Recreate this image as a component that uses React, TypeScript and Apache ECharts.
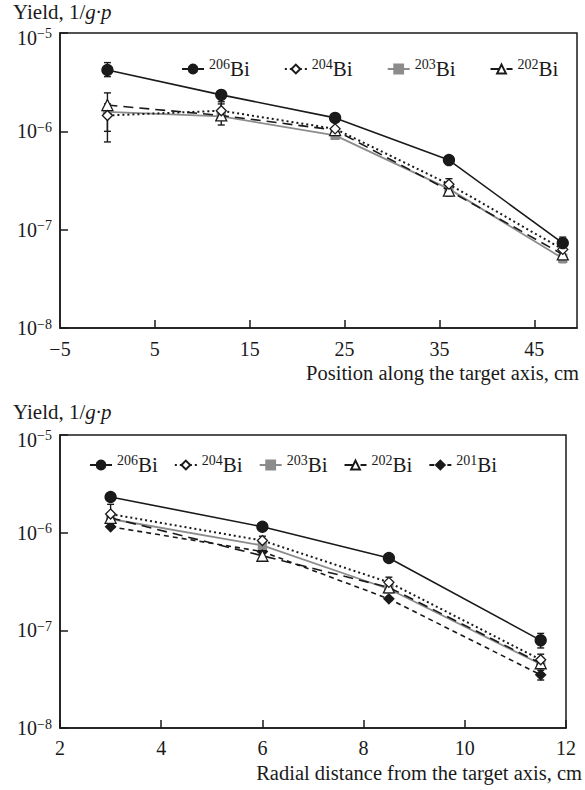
import React, { useEffect, useRef } from "react";
import * as echarts from "echarts";

const FONT = '"Liberation Serif", "Times New Roman", serif';
const INK = "#1a1a1a";
const GRAY = "#8c8c8c";

// ---- Top panel: position along the target axis ----
const topX = [0, 12, 24, 36, 48];
const top206 = [4.2e-6, 2.35e-6, 1.37e-6, 5.1e-7, 7.3e-8];
const top204 = [1.45e-6, 1.62e-6, 1.06e-6, 2.9e-7, 6.3e-8];
const top203 = [1.58e-6, 1.42e-6, 9.1e-7, 2.6e-7, 5.1e-8];
const top202 = [1.85e-6, 1.45e-6, 1.03e-6, 2.5e-7, 5.6e-8];
// error bars: [x, low, high]
const top206Err = [[0, 3.6e-6, 5.0e-6], [48, 6.2e-8, 8.4e-8]];
const top204Err = [[0, 7.8e-7, 1.9e-6], [12, 1.35e-6, 2.0e-6], [36, 2.6e-7, 3.3e-7], [48, 5.5e-8, 7.0e-8]];
const top203Err = [[48, 4.6e-8, 5.7e-8]];
const top202Err = [[0, 1.0e-6, 2.46e-6], [12, 1.16e-6, 1.9e-6], [36, 2.2e-7, 2.9e-7]];
const topTicks = [-5, 5, 15, 25, 35, 45];

// ---- Bottom panel: radial distance ----
const botX = [3, 6, 8.5, 11.5];
const bot206 = [2.32e-6, 1.15e-6, 5.5e-7, 7.9e-8];
const bot204 = [1.55e-6, 8.3e-7, 3.1e-7, 5.0e-8];
const bot203 = [1.38e-6, 7.4e-7, 2.65e-7, 4.5e-8];
const bot202 = [1.42e-6, 5.8e-7, 2.75e-7, 4.6e-8];
const bot201 = [1.15e-6, 6.4e-7, 2.1e-7, 3.5e-8];
const bot206Err = [[11.5, 6.6e-8, 9.3e-8]];
const bot204Err = [[3, 1.3e-6, 1.95e-6], [6, 7.4e-7, 9.2e-7], [8.5, 2.8e-7, 3.5e-7], [11.5, 4.2e-8, 5.7e-8]];
const bot203Err = [[11.5, 4.0e-8, 5.0e-8]];
const bot202Err = [[3, 1.25e-6, 1.6e-6], [11.5, 4.1e-8, 5.2e-8]];
const bot201Err = [[11.5, 3.1e-8, 3.9e-8]];

const yDecades = [1e-8, 1e-7, 1e-6, 1e-5];

type Sty = { color: string; dash: any; width: number; symbol: string; size: number; fill: string };
const styles: Record<string, Sty> = {
  "206Bi": { color: INK, dash: "solid", width: 1.6, symbol: "circle", size: 11, fill: INK },
  "204Bi": { color: INK, dash: [2, 3], width: 2, symbol: "diamond", size: 10, fill: "#fff" },
  "203Bi": { color: GRAY, dash: "solid", width: 1.8, symbol: "rect", size: 8, fill: GRAY },
  "202Bi": { color: INK, dash: [10, 6], width: 1.6, symbol: "triangle", size: 11, fill: "#fff" },
  "201Bi": { color: INK, dash: [5, 4], width: 1.6, symbol: "diamond", size: 10, fill: INK },
};

function lineSeries(name: string, xs: number[], ys: number[], idx: number, z: number) {
  const s = styles[name];
  return {
    type: "line",
    name,
    xAxisIndex: idx,
    yAxisIndex: idx,
    data: xs.map((x, i) => [x, ys[i]]),
    symbol: s.symbol,
    symbolSize: s.size,
    showAllSymbol: true,
    z,
    lineStyle: { color: s.color, type: s.dash, width: s.width },
    itemStyle: { color: s.fill, borderColor: s.color, borderWidth: 1.3 },
    emphasis: { disabled: true },
  };
}

function errSeries(name: string, data: number[][], idx: number, z: number) {
  const s = styles[name];
  return {
    type: "custom",
    name: name + "-err",
    xAxisIndex: idx,
    yAxisIndex: idx,
    data,
    z,
    silent: true,
    renderItem: (params: any, api: any) => {
      const x = api.value(0);
      const hi = api.coord([x, api.value(2)]);
      const lo = api.coord([x, api.value(1)]);
      const w = 3.5;
      const st = { stroke: s.color === GRAY ? GRAY : INK, lineWidth: 1.4 };
      return {
        type: "group",
        children: [
          { type: "line", shape: { x1: hi[0], y1: hi[1], x2: lo[0], y2: lo[1] }, style: st },
          { type: "line", shape: { x1: hi[0] - w, y1: hi[1], x2: hi[0] + w, y2: hi[1] }, style: st },
          { type: "line", shape: { x1: lo[0] - w, y1: lo[1], x2: lo[0] + w, y2: lo[1] }, style: st },
        ],
      };
    },
  };
}

const supRich = {
  b: { fontFamily: FONT, fontSize: 20, color: INK, lineHeight: 22 },
  s: { fontFamily: FONT, fontSize: 14, color: INK, lineHeight: 13, verticalAlign: "top" },
  bt: { fontFamily: FONT, fontSize: 20, color: INK, lineHeight: 22, padding: [10, 0, 0, 0] },
  st: { fontFamily: FONT, fontSize: 14, color: INK, lineHeight: 13, verticalAlign: "top", padding: [4, 0, 0, 0] },
};
const legRich = {
  b: { fontFamily: FONT, fontSize: 21, color: INK, lineHeight: 24 },
  s: { fontFamily: FONT, fontSize: 14, color: INK, lineHeight: 14, verticalAlign: "top" },
};

function yAxis(idx: number) {
  return {
    type: "log",
    logBase: 10,
    gridIndex: idx,
    min: yDecades[0],
    max: yDecades[yDecades.length - 1],
    axisLine: { show: true, onZero: false, lineStyle: { color: INK, width: 1.5 } },
    axisTick: { show: true, inside: true, length: 8, lineStyle: { color: INK, width: 1.5 } },
    minorTick: { show: false },
    splitLine: { show: false },
    axisLabel: {
      margin: 8,
      showMinLabel: true,
      showMaxLabel: true,
      formatter: (v: number) => {
        const e = Math.round(-Math.log10(v));
        return e === 5 ? "{bt|10}{st|\u2212" + e + "}" : "{b|10}{s|\u2212" + e + "}";
      },
      rich: supRich,
    },
  };
}

const fmtNum = (v: number) => (v < 0 ? "\u2212" + Math.abs(v) : String(v));

function legend(names: string[], left: number, top: number, gap: number) {
  return {
    data: names,
    left,
    top,
    itemGap: gap,
    itemWidth: 22,
    itemHeight: 11,
    selectedMode: false,
    formatter: (n: string) => "{s|" + n.replace("Bi", "") + "}{b|Bi}",
    textStyle: { rich: legRich },
  };
}

export default function App() {
  const ref = useRef<HTMLDivElement>(null);
  useEffect(() => {
    if (!ref.current) return;
    const chart = echarts.init(ref.current, null, { renderer: "svg" });
    const topNames = ["206Bi", "204Bi", "203Bi", "202Bi"];
    const botNames = ["206Bi", "204Bi", "203Bi", "202Bi", "201Bi"];
    const title = {
      text: "{n|Yield, 1/}{i|g\u00b7p}",
      rich: {
        n: { fontFamily: FONT, fontSize: 21, fill: INK },
        i: { fontFamily: FONT, fontSize: 21, fill: INK, fontStyle: "italic" },
      },
    };
    chart.setOption({
      animation: false,
      backgroundColor: "#fff",
      textStyle: { fontFamily: FONT, color: INK },
      grid: [
        { left: 60, top: 33, width: 517, height: 295, show: true, borderColor: INK, borderWidth: 1.5, backgroundColor: "transparent" },
        { left: 60, top: 435, width: 506, height: 293, show: true, borderColor: INK, borderWidth: 1.5, backgroundColor: "transparent" },
      ],
      legend: [legend(topNames, 176, 52, 34), legend(botNames, 84, 448, 16)],
      xAxis: [
        {
          type: "value",
          gridIndex: 0,
          min: -5,
          max: 49.5,
          axisLine: { onZero: false, lineStyle: { color: INK, width: 1.5 } },
          axisTick: { inside: true, length: 8, customValues: topTicks.slice(1), lineStyle: { color: INK, width: 1.5 } },
          axisLabel: { customValues: topTicks, margin: 11, fontFamily: FONT, fontSize: 20, color: INK, formatter: fmtNum },
          splitLine: { show: false },
        },
        {
          type: "value",
          gridIndex: 1,
          min: 2,
          max: 12,
          interval: 2,
          axisLine: { onZero: false, lineStyle: { color: INK, width: 1.5 } },
          axisTick: { inside: true, length: 8, lineStyle: { color: INK, width: 1.5 } },
          axisLabel: { margin: 10, fontFamily: FONT, fontSize: 20, color: INK, showMinLabel: true, showMaxLabel: true },
          splitLine: { show: false },
        },
      ],
      yAxis: [yAxis(0), yAxis(1)],
      series: [
        errSeries("203Bi", top203Err, 0, 3),
        errSeries("202Bi", top202Err, 0, 3),
        errSeries("204Bi", top204Err, 0, 3),
        errSeries("206Bi", top206Err, 0, 3),
        lineSeries("203Bi", topX, top203, 0, 4),
        lineSeries("202Bi", topX, top202, 0, 5),
        lineSeries("204Bi", topX, top204, 0, 6),
        lineSeries("206Bi", topX, top206, 0, 7),
        errSeries("201Bi", bot201Err, 1, 3),
        errSeries("203Bi", bot203Err, 1, 3),
        errSeries("202Bi", bot202Err, 1, 3),
        errSeries("204Bi", bot204Err, 1, 3),
        errSeries("206Bi", bot206Err, 1, 3),
        lineSeries("201Bi", botX, bot201, 1, 4),
        lineSeries("203Bi", botX, bot203, 1, 5),
        lineSeries("202Bi", botX, bot202, 1, 6),
        lineSeries("204Bi", botX, bot204, 1, 7),
        lineSeries("206Bi", botX, bot206, 1, 8),
      ],
      graphic: [
        { type: "text", left: 13, top: 1, style: title },
        { type: "text", left: 13, top: 401, style: title },
        {
          type: "text",
          right: 6,
          top: 362,
          style: { text: "Position along the target axis, cm", fontFamily: FONT, fontSize: 20.5, fill: INK },
        },
        {
          type: "text",
          right: 3,
          top: 762,
          style: { text: "Radial distance from the target axis, cm", fontFamily: FONT, fontSize: 20.5, fill: INK },
        },
      ],
    });
    return () => chart.dispose();
  }, []);
  return <div ref={ref} style={{ position: "absolute", left: 0, top: 0, width: 585, height: 790 }} />;
}
